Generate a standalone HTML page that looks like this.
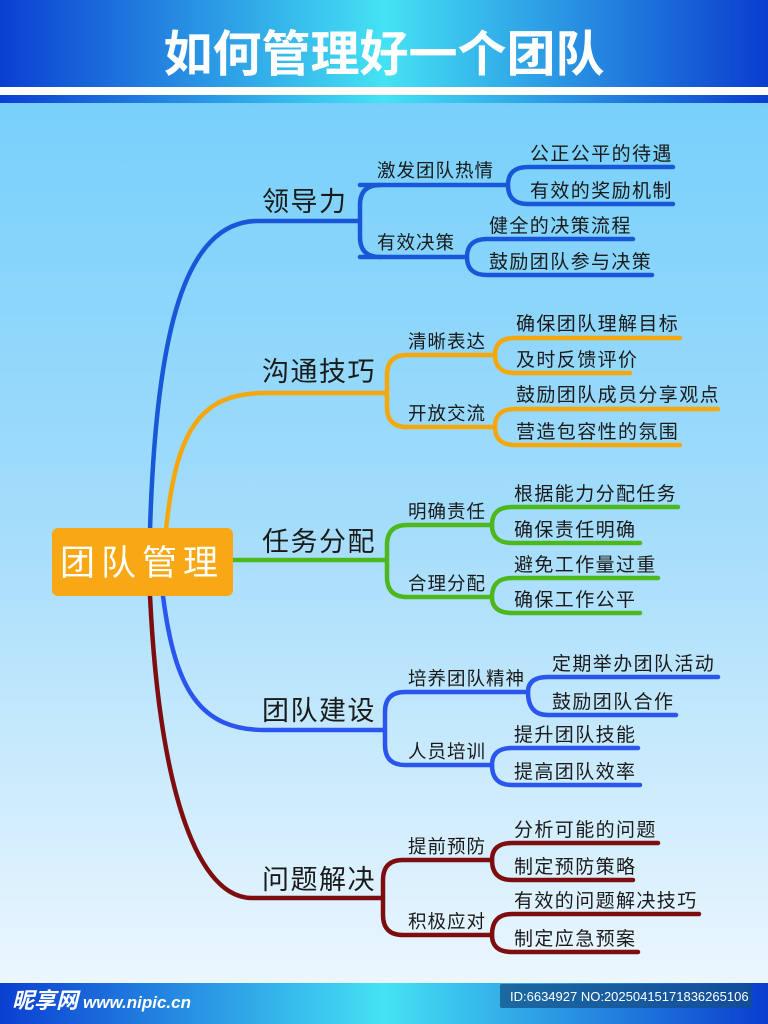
<!DOCTYPE html>
<html><head><meta charset="utf-8"><style>
html,body{margin:0;padding:0;width:768px;height:1024px;overflow:hidden}
body{font-family:"Liberation Sans","Noto Sans CJK SC",sans-serif}
</style></head><body>
<svg width="768" height="1024" viewBox="0 0 768 1024" xmlns="http://www.w3.org/2000/svg">
<defs>
<linearGradient id="hd" x1="0" x2="1" y1="0" y2="0">
<stop offset="0" stop-color="#0b3fd2"/><stop offset="0.5" stop-color="#45e2f4"/><stop offset="1" stop-color="#0b3dcf"/>
</linearGradient>
<linearGradient id="bg" x1="0" x2="0" y1="0" y2="1">
<stop offset="0" stop-color="#6ccdfb"/><stop offset="0.5" stop-color="#a2dcfb"/><stop offset="1" stop-color="#f2f9fe"/>
</linearGradient>
</defs>
<rect x="0" y="0" width="768" height="1024" fill="url(#bg)"/>
<rect x="0" y="0" width="768" height="87" fill="url(#hd)"/>
<rect x="0" y="87" width="768" height="8" fill="#ffffff"/>
<rect x="0" y="95" width="768" height="8" fill="url(#hd)"/>
<text x="384" y="71" text-anchor="middle" fill="#fff" font-size="49" font-weight="bold" font-family="Noto Sans CJK SC,sans-serif">如何管理好一个团队</text>

<rect x="0" y="983" width="768" height="41" fill="url(#hd)"/>
<text x="12" y="1008" fill="#fff" font-size="22" font-weight="bold" font-style="italic" font-family="Noto Sans CJK SC,sans-serif">昵享网 <tspan font-family="Liberation Sans" font-size="17">www.nipic.cn</tspan></text>
<rect x="500" y="984" width="252" height="24" rx="2" fill="#14508a" opacity="0.75"/>
<text x="510" y="1001" fill="#fff" font-size="13">ID:6634927 NO:20250415171836265106</text>

<g fill="none" stroke-width="4.5" stroke-linecap="round">
<g stroke="#1857d8">
<path d="M150,530 C156,330 185,221 258,221 L360,221"/>
<path d="M380,185 Q360,185 360,205 L360,237 Q360,257 380,257"/>
<path d="M360,185 L505,185 M360,257 L467,257"/>
<path d="M528,167 Q508,167 508,185 Q508,204 528,204 M528,167 L673,167 M528,204 L673,204"/>
<path d="M487,239 Q467,239 467,257 Q467,275 487,275 M487,239 L633,239 M487,275 L652,275"/>
</g>
<g stroke="#f5a70b">
<path d="M166,530 C176,430 200,393 265,393 L387,393"/>
<path d="M407,355 Q387,355 387,375 L387,407 Q387,427 407,427 M407,355 L495,355 M407,427 L495,427"/>
<path d="M515,338 Q495,338 495,355 Q495,373 515,373 M515,338 L680,338 M515,373 L630,373"/>
<path d="M515,409 Q495,409 495,427 Q495,445 515,445 M515,409 L718,409 M515,445 L680,445"/>
</g>
<g stroke="#4cb81e">
<path d="M233,560 L387,560"/>
<path d="M407,525 Q387,525 387,545 L387,577 Q387,597 407,597 M407,525 L492,525 M407,597 L492,597"/>
<path d="M512,507 Q492,507 492,525 Q492,543 512,543 M512,507 L678,507 M512,543 L640,543"/>
<path d="M512,578 Q492,578 492,597 Q492,613 512,613 M512,578 L658,578 M512,613 L640,613"/>
</g>
<g stroke="#2a55ee">
<path d="M163,596 C175,690 200,730 265,730 L385,730"/>
<path d="M405,692 Q385,692 385,712 L385,745 Q385,765 405,765 M405,692 L528,692 M405,765 L492,765"/>
<path d="M548,677 Q528,677 528,692 Q528,715 548,715 M548,677 L718,677 M548,715 L676,715"/>
<path d="M512,748 Q492,748 492,765 Q492,785 512,785 M512,748 L638,748 M512,785 L640,785"/>
</g>
<g stroke="#7e0d10">
<path d="M150,596 C160,800 200,898 252,898 L383,898"/>
<path d="M403,860 Q383,860 383,880 L383,915 Q383,935 403,935 M403,860 L492,860 M403,935 L492,935"/>
<path d="M512,843 Q492,843 492,860 Q492,880 512,880 M512,843 L658,843 M512,880 L633,880"/>
<path d="M512,914 Q492,914 492,935 Q492,952 512,952 M512,914 L699,914 M512,952 L638,952"/>
</g>
</g>

<rect x="52" y="528" width="181" height="68" rx="6" fill="#f9a815"/>
<text x="142" y="575" text-anchor="middle" fill="#fff" font-size="35" letter-spacing="6" font-family="Noto Sans CJK SC,sans-serif">团队管理</text>

<g fill="#1a1a1a" font-family="Noto Sans CJK SC,sans-serif">
<g font-size="27" letter-spacing="1.5">
<text x="262" y="211">领导力</text>
<text x="262" y="381">沟通技巧</text>
<text x="262" y="551">任务分配</text>
<text x="262" y="720">团队建设</text>
<text x="262" y="889">问题解决</text>
</g>
<g font-size="18.5" letter-spacing="1">
<text x="377" y="177">激发团队热情</text>
<text x="377" y="249">有效决策</text>
<text x="408" y="348">清晰表达</text>
<text x="408" y="420">开放交流</text>
<text x="408" y="518">明确责任</text>
<text x="408" y="590">合理分配</text>
<text x="408" y="685">培养团队精神</text>
<text x="408" y="758">人员培训</text>
<text x="408" y="853">提前预防</text>
<text x="408" y="928">积极应对</text>
</g>
<g font-size="19" letter-spacing="1.4">
<text x="530" y="160">公正公平的待遇</text>
<text x="530" y="197">有效的奖励机制</text>
<text x="489" y="232">健全的决策流程</text>
<text x="489" y="268">鼓励团队参与决策</text>
<text x="516" y="330">确保团队理解目标</text>
<text x="516" y="366">及时反馈评价</text>
<text x="516" y="401">鼓励团队成员分享观点</text>
<text x="516" y="438">营造包容性的氛围</text>
<text x="514" y="500">根据能力分配任务</text>
<text x="514" y="536">确保责任明确</text>
<text x="514" y="571">避免工作量过重</text>
<text x="514" y="606">确保工作公平</text>
<text x="552" y="670">定期举办团队活动</text>
<text x="552" y="708">鼓励团队合作</text>
<text x="514" y="741">提升团队技能</text>
<text x="514" y="778">提高团队效率</text>
<text x="514" y="836">分析可能的问题</text>
<text x="514" y="873">制定预防策略</text>
<text x="514" y="907">有效的问题解决技巧</text>
<text x="514" y="945">制定应急预案</text>
</g>
</g>
</svg>
</body></html>
